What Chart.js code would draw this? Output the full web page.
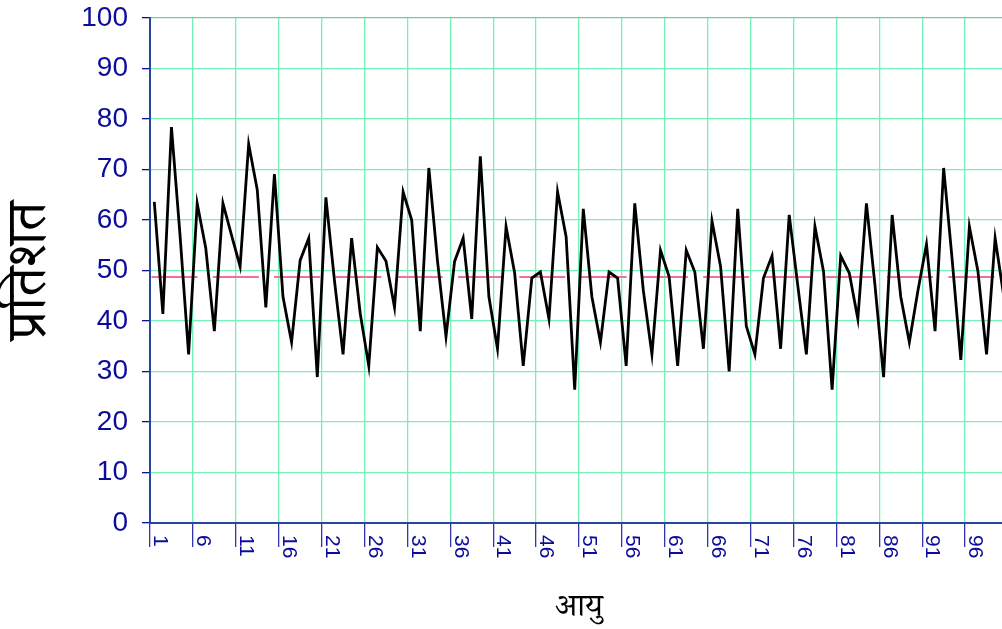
<!DOCTYPE html>
<html>
<head>
<meta charset="utf-8">
<script src="https://cdn.jsdelivr.net/npm/chart.js@4.4.1/dist/chart.umd.min.js"></script>
<style>
html, body { margin: 0; padding: 0; background: #ffffff; overflow: hidden; }
#wrap { width: 1008px; height: 629px; }
canvas { display: block; }
</style>
</head>
<body>
<div id="wrap"><canvas id="c" width="1008" height="629"></canvas></div>
<script>
// ---- data ----
const ages = [1,2,3,4,5,6,7,8,9,10,11,12,13,14,15,16,17,18,19,20,
  21,22,23,24,25,26,27,28,29,30,31,32,33,34,35,36,37,38,39,40,
  41,42,43,44,45,46,47,48,49,50,51,52,53,54,55,56,57,58,59,60,
  61,62,63,64,65,66,67,68,69,70,71,72,73,74,75,76,77,78,79,80,
  81,82,83,84,85,86,87,88,89,90,91,92,93,94,95,96,97,98,99,100];

const percentValues = [
  63.6, 41.4, 78.4, 57.0, 33.4, 63.3, 54.4, 38.0, 63.3, 57.0,
  50.8, 75.0, 66.0, 42.7, 69.1, 44.8, 35.8, 52.0, 56.4, 28.9,
  64.5, 48.0, 33.4, 56.4, 41.5, 31.1, 54.6, 51.9, 42.7, 65.6,
  60.0, 38.0, 70.3, 52.0, 36.9, 51.8, 56.4, 40.4, 72.6, 44.8,
  34.5, 58.7, 49.5, 31.1, 48.5, 49.7, 40.4, 65.6, 56.7, 26.4,
  62.2, 44.8, 35.8, 49.7, 48.5, 31.1, 63.3, 46.0, 33.4, 54.0,
  48.8, 31.1, 54.0, 49.7, 34.5, 59.8, 50.8, 30.0, 62.2, 39.0,
  33.4, 48.5, 52.9, 34.5, 61.0, 47.0, 33.4, 58.7, 49.8, 26.4,
  52.9, 49.5, 40.4, 63.3, 47.0, 28.9, 61.0, 44.8, 35.8, 46.0,
  55.2, 38.0, 70.3, 52.0, 32.3, 58.7, 49.8, 33.4, 56.4, 45.0];

const xTickLabels = ['1','6','11','16','21','26','31','36','41','46',
  '51','56','61','66','71','76','81','86','91','96'];

const meanValue = 48.8;

const xTitle = 'आयु';
const yTitle = 'प्रतिशत';

// ---- styles ----
const NAVY = '#0c0c9c';
const AXIS = '#24479b';
const GRID = '#72f1b9';
const devFont = '"Noto Serif Devanagari", "Noto Sans Devanagari", "Lohit Devanagari", "Mangal", "Noto Sans", sans-serif';

const meanLinePlugin = {
  id: 'meanLine',
  beforeDatasetsDraw(chart) {
    const {ctx, chartArea, scales} = chart;
    const py = Math.round(scales.y.getPixelForValue(meanValue));
    ctx.save();
    ctx.strokeStyle = '#f0729c';
    ctx.lineWidth = 2;
    ctx.setLineDash([46, 15.3]);
    ctx.lineDashOffset = -1.5;
    ctx.beginPath();
    ctx.moveTo(chartArea.left, py);
    ctx.lineTo(chartArea.right, py);
    ctx.stroke();
    ctx.restore();
  }
};

const xLabelPlugin = {
  id: 'xLabels',
  afterDraw(chart) {
    const {ctx, scales} = chart;
    const x = scales.x;
    ctx.save();
    ctx.font = '21px "Liberation Sans", Arial, sans-serif';
    ctx.fillStyle = NAVY;
    ctx.textAlign = 'left';
    ctx.textBaseline = 'alphabetic';
    xTickLabels.forEach(lbl => {
      const idx = ages.indexOf(Number(lbl));
      const px = x.getPixelForValue(idx);
      ctx.save();
      ctx.translate(px, x.top + 12);
      ctx.rotate(Math.PI / 2);
      ctx.fillText(lbl, 0, 0);
      ctx.restore();
    });
    ctx.restore();
  }
};

new Chart(document.getElementById('c'), {
  type: 'line',
  data: {
    labels: ages.map(String),
    datasets: [{
      data: percentValues,
      borderColor: '#000000',
      borderWidth: 2.8,
      pointRadius: 0,
      tension: 0,
      borderJoinStyle: 'miter',
      fill: false
    }]
  },
  options: {
    responsive: false,
    animation: false,
    devicePixelRatio: 1,
    layout: { padding: { top: 18, right: 0, bottom: 0, left: 0 } },
    plugins: { legend: { display: false }, tooltip: { enabled: false } },
    scales: {
      x: {
        type: 'category',
        offset: true,
        grid: {
          offset: true,
          drawTicks: true,
          tickLength: 24,
          lineWidth: 1.3,
          tickWidth: 1.3,
          color: ctx => (ctx.index % 5 === 0 ? GRID : 'rgba(0,0,0,0)'),
          tickColor: ctx => (ctx.index % 5 === 0 ? '#3434b4' : 'rgba(0,0,0,0)')
        },
        border: { display: true, color: AXIS, width: 2 },
        ticks: { display: false, autoSkip: false },
        title: {
          display: true,
          text: xTitle,
          color: '#000000',
          font: { family: devFont, size: 32, lineHeight: 1 },
          padding: { top: 0, bottom: 0 }
        },
        afterFit(scale) {
          scale.height = 106;
          scale.paddingLeft = 0;
          scale.paddingRight = 0;
        }
      },
      y: {
        min: 0,
        max: 100,
        ticks: {
          stepSize: 10,
          color: NAVY,
          padding: 14,
          font: { family: '"Liberation Sans", Arial, sans-serif', size: 28 }
        },
        grid: {
          drawTicks: true,
          tickLength: 8,
          lineWidth: 1.3,
          color: ctx => (ctx.tick && ctx.tick.value === 100 ? '#5ad99c' : GRID),
          tickColor: NAVY
        },
        border: { display: true, color: AXIS, width: 2 },
        title: {
          display: true,
          text: yTitle,
          color: '#000000',
          font: { family: devFont, size: 56 },
          padding: { top: 6, bottom: 0 }
        },
        afterFit(scale) {
          scale.width = 150;
          scale.paddingTop = 0;
          scale.paddingBottom = 0;
        }
      }
    }
  },
  plugins: [meanLinePlugin, xLabelPlugin]
});
</script>
</body>
</html>
